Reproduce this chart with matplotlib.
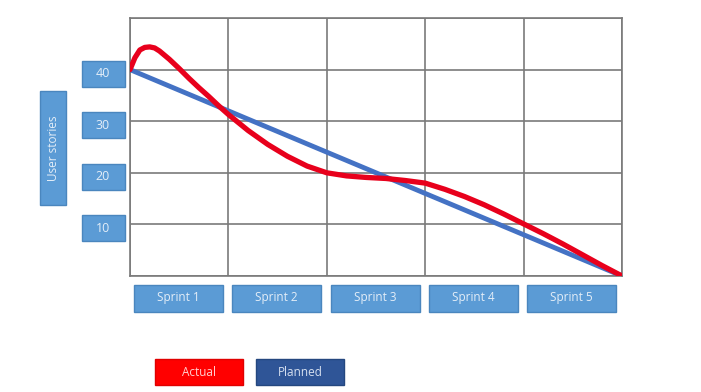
import matplotlib
matplotlib.use("Agg")
import matplotlib.pyplot as plt
from matplotlib.patches import Rectangle

# ---- data ----
sprints = ["Sprint 1", "Sprint 2", "Sprint 3", "Sprint 4", "Sprint 5"]
y_ticks = [10, 20, 30, 40]
y_axis_label = "User stories"
planned_x = [0, 5]
planned_y = [40, 0]
actual_x = [0, 0.05, 0.1, 0.15, 0.2, 0.25, 0.3, 0.4, 0.5, 0.6, 0.7, 0.8, 0.9, 1.0,
            1.2, 1.4, 1.6, 1.8, 2.0, 2.2, 2.4, 2.6, 2.8, 3.0, 3.2, 3.4, 3.6, 3.8,
            4.0, 4.2, 4.4, 4.6, 4.8, 5.0]
actual_y = [40, 42.3, 43.8, 44.3, 44.4, 44.2, 43.6, 42.0, 40.2, 38.3, 36.5, 34.8, 33.0, 31.3,
            28.2, 25.5, 23.2, 21.3, 20.0, 19.4, 19.1, 18.9, 18.5, 18.0, 16.8, 15.4, 13.8, 12.0,
            10.1, 8.2, 6.2, 4.1, 2.0, 0]
legend_labels = ["Actual", "Planned"]

W, H = 701, 392
BOX_FC = "#5B9BD5"
BOX_EC = "#4A86BE"
BOX_TC = "#E4EEF8"
RED = "#E8001C"
BLUE = "#4472C4"
DARKBLUE = "#2F5597"
FONT = "Open Sans"

fig = plt.figure(figsize=(W / 100, H / 100), dpi=100)
fig.patch.set_facecolor("white")
ax = fig.add_axes([130 / W, 1 - 276 / H, 492 / W, 258 / H])
ax.set_xlim(0, 5)
ax.set_ylim(0, 50)
ax.set_xticks(range(6))
ax.set_yticks(range(0, 51, 10))
ax.grid(True, color="#7a7a7a", lw=1.2)
ax.set_axisbelow(True)
ax.tick_params(length=0, labelbottom=False, labelleft=False)
for s in ax.spines.values():
    s.set_color("#7a7a7a")
    s.set_linewidth(1.2)

ax.plot(planned_x, planned_y, color=BLUE, lw=3.5, solid_capstyle="round", zorder=3)
ax.plot(actual_x, actual_y, color=RED, lw=3.8, solid_capstyle="round",
        solid_joinstyle="round", zorder=4)


def add_box(cx, cy, w, h, fc, ec, text, tc, rotation=0, size=8.5):
    # cx, cy in pixel coords measured from top-left
    x0 = (cx - w / 2) / W
    y0 = 1 - (cy + h / 2) / H
    fig.patches.append(Rectangle((x0, y0), w / W, h / H, transform=fig.transFigure,
                                 facecolor=fc, edgecolor=ec, lw=1.0, zorder=1))
    fig.text(cx / W, 1 - cy / H, text, ha="center", va="center", color=tc,
             rotation=rotation, fontsize=size, family=FONT, zorder=2)


# y tick label boxes
for v in y_ticks:
    _, py = ax.transData.transform((0, v))
    cy = H - py + 4
    add_box(103, cy, 43, 26, BOX_FC, BOX_EC, str(v), BOX_TC, size=9)

# y axis label box
add_box(53, 148, 26, 114, BOX_FC, BOX_EC, y_axis_label, BOX_TC, rotation=90)

# sprint boxes
for i, s in enumerate(sprints):
    px, _ = ax.transData.transform((i + 0.5, 0))
    add_box(px - 1, 298, 89, 27, BOX_FC, BOX_EC, s, BOX_TC)

# legend boxes
add_box(199, 372, 88, 26, "#FF0000", "#E00000", legend_labels[0], "#FFD0D0")
add_box(300, 372, 88, 26, DARKBLUE, "#24477F", legend_labels[1], "#D6E0F0")

fig.savefig("out.png", dpi=100)
